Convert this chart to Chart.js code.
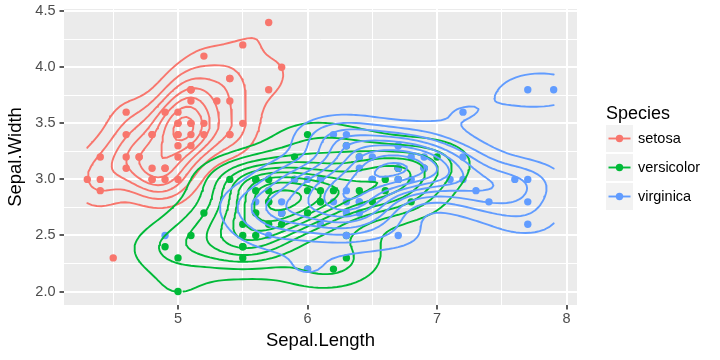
<!DOCTYPE html>
<html><head><meta charset="utf-8">
<script src="https://cdn.jsdelivr.net/npm/chart.js@4.4.1/dist/chart.umd.min.js"></script>
<style>html,body{margin:0;padding:0;background:#fff;}#c{display:block;}</style>
</head><body><canvas id="c" width="720" height="360"></canvas>
<script>
// ---- data (iris: Sepal.Length / Sepal.Width) ----
const speciesNames = ['setosa', 'versicolor', 'virginica'];
const setosaLength = [5.1,4.9,4.7,4.6,5.0,5.4,4.6,5.0,4.4,4.9,5.4,4.8,4.8,4.3,5.8,5.7,5.4,5.1,5.7,5.1,5.4,5.1,4.6,5.1,4.8,5.0,5.0,5.2,5.2,4.7,4.8,5.4,5.2,5.5,4.9,5.0,5.5,4.9,4.4,5.1,5.0,4.5,4.4,5.0,5.1,4.8,5.1,4.6,5.3,5.0];
const setosaWidth = [3.5,3.0,3.2,3.1,3.6,3.9,3.4,3.4,2.9,3.1,3.7,3.4,3.0,3.0,4.0,4.4,3.9,3.5,3.8,3.8,3.4,3.7,3.6,3.3,3.4,3.0,3.4,3.5,3.4,3.2,3.1,3.4,4.1,4.2,3.1,3.2,3.5,3.6,3.0,3.4,3.5,2.3,3.2,3.5,3.8,3.0,3.8,3.2,3.7,3.3];
const versicolorLength = [7.0,6.4,6.9,5.5,6.5,5.7,6.3,4.9,6.6,5.2,5.0,5.9,6.0,6.1,5.6,6.7,5.6,5.8,6.2,5.6,5.9,6.1,6.3,6.1,6.4,6.6,6.8,6.7,6.0,5.7,5.5,5.5,5.8,6.0,5.4,6.0,6.7,6.3,5.6,5.5,5.5,6.1,5.8,5.0,5.6,5.7,5.7,6.2,5.1,5.7];
const versicolorWidth = [3.2,3.2,3.1,2.3,2.8,2.8,3.3,2.4,2.9,2.7,2.0,3.0,2.2,2.9,2.9,3.1,3.0,2.7,2.2,2.5,3.2,2.8,2.5,2.8,2.9,3.0,2.8,3.0,2.9,2.6,2.4,2.4,2.7,2.7,3.0,3.4,3.1,2.3,3.0,2.5,2.6,3.0,2.6,2.3,2.7,3.0,2.9,2.9,2.5,2.8];
const virginicaLength = [6.3,5.8,7.1,6.3,6.5,7.6,4.9,7.3,6.7,7.2,6.5,6.4,6.8,5.7,5.8,6.4,6.5,7.7,7.7,6.0,6.9,5.6,7.7,6.3,6.7,7.2,6.2,6.1,6.4,7.2,7.4,7.9,6.4,6.3,6.1,7.7,6.3,6.4,6.0,6.9,6.7,6.9,5.8,6.8,6.7,6.7,6.3,6.5,6.2,5.9];
const virginicaWidth = [3.3,2.7,3.0,2.9,3.0,3.0,2.5,2.9,2.5,3.6,3.2,2.7,3.0,2.5,2.8,3.2,3.0,3.8,2.6,2.2,3.2,2.8,2.8,2.7,3.3,3.2,2.8,3.0,2.8,3.0,2.8,3.8,2.8,2.8,2.6,3.0,3.4,3.1,3.0,3.1,3.1,3.1,2.7,3.2,3.3,3.0,2.5,3.0,3.4,3.0];
const xTickLabels = [5, 6, 7, 8];
const yTickLabels = [2.0, 2.5, 3.0, 3.5, 4.0, 4.5];
const speciesColors = ['#F8766D', '#00BA38', '#619CFF'];

const groupsX = [setosaLength, versicolorLength, virginicaLength];
const groupsY = [setosaWidth, versicolorWidth, virginicaWidth];

// ---- 2-D kernel density (as MASS::kde2d) + contour lines ----
function quantile7(s, p) { const h = (s.length - 1) * p, lo = Math.floor(h); const hi = Math.min(lo + 1, s.length - 1); return s[lo] + (h - lo) * (s[hi] - s[lo]); }
function bandwidthNrd(x) {
  const s = [...x].sort((a, b) => a - b);
  const r = quantile7(s, 0.75) - quantile7(s, 0.25);
  const n = x.length, m = x.reduce((a, b) => a + b, 0) / n;
  const v = x.reduce((a, b) => a + (b - m) * (b - m), 0) / (n - 1);
  return 4 * 1.06 * Math.min(Math.sqrt(v), r / 1.34) * Math.pow(n, -0.2);
}
function seq(a, b, n) { const o = []; for (let i = 0; i < n; i++) o.push(a + (b - a) * i / (n - 1)); return o; }
function dnorm(u) { return Math.exp(-u * u / 2) / Math.sqrt(2 * Math.PI); }
function kde2d(x, y, lims, n) {
  const hx = bandwidthNrd(x) / 4, hy = bandwidthNrd(y) / 4;
  const gx = seq(lims[0], lims[1], n), gy = seq(lims[2], lims[3], n);
  const ax = gx.map(g => x.map(v => dnorm((g - v) / hx)));
  const ay = gy.map(g => y.map(v => dnorm((g - v) / hy)));
  const z = [];
  for (let i = 0; i < n; i++) { z.push([]); for (let j = 0; j < n; j++) { let s = 0; for (let k = 0; k < x.length; k++) s += ax[i][k] * ay[j][k]; z[i].push(s / (x.length * hx * hy)); } }
  return { gx, gy, z };
}
function pretty(lo, hi, ndiv) {
  const h = 1.5, h5 = 0.5 + 1.5 * h;
  let cell = hi - lo; if (ndiv > 1) cell /= ndiv;
  const base = Math.pow(10, Math.floor(Math.log10(cell)));
  let unit = base, ns;
  if ((ns = 2 * base) - cell < h * (cell - unit)) { unit = ns; if ((ns = 5 * base) - cell < h5 * (cell - unit)) { unit = ns; if ((ns = 10 * base) - cell < h * (cell - unit)) unit = ns; } }
  let a = Math.floor(lo / unit + 1e-7), b = Math.ceil(hi / unit - 1e-7);
  while (a * unit > lo + 1e-10 * unit) a--;
  while (b * unit < hi - 1e-10 * unit) b++;
  const out = []; for (let k = a; k <= b; k++) out.push(k * unit); return out;
}
function contourLines(d, lev) {
  const { gx, gy, z } = d, n = gx.length;
  const pts = new Map(), segs = [];
  function edge(id, x0, y0, z0, x1, y1, z1) {
    if (!pts.has(id)) { const t = (lev - z0) / (z1 - z0); pts.set(id, { x: x0 + t * (x1 - x0), y: y0 + t * (y1 - y0) }); }
    return id;
  }
  for (let i = 0; i < n - 1; i++) for (let j = 0; j < n - 1; j++) {
    const a = z[i][j], b = z[i + 1][j], c = z[i + 1][j + 1], dd = z[i][j + 1];
    const A = a >= lev, B = b >= lev, C = c >= lev, D = dd >= lev;
    const e0 = A !== B ? edge('h' + i + '_' + j, gx[i], gy[j], a, gx[i + 1], gy[j], b) : null;
    const e1 = B !== C ? edge('v' + (i + 1) + '_' + j, gx[i + 1], gy[j], b, gx[i + 1], gy[j + 1], c) : null;
    const e2 = D !== C ? edge('h' + i + '_' + (j + 1), gx[i], gy[j + 1], dd, gx[i + 1], gy[j + 1], c) : null;
    const e3 = A !== D ? edge('v' + i + '_' + j, gx[i], gy[j], a, gx[i], gy[j + 1], dd) : null;
    const list = [e0, e1, e2, e3].filter(v => v !== null);
    if (list.length === 2) segs.push(list);
    else if (list.length === 4) {
      const ctr = (a + b + c + dd) / 4;
      if ((ctr >= lev) === A) { segs.push([e0, e1]); segs.push([e2, e3]); }
      else { segs.push([e0, e3]); segs.push([e1, e2]); }
    }
  }
  const adj = new Map();
  segs.forEach((s, k) => s.forEach(e => { if (!adj.has(e)) adj.set(e, []); adj.get(e).push(k); }));
  const used = new Array(segs.length).fill(false);
  const lines = [];
  function walk(start, fromEdge) {
    const out = [fromEdge]; let seg = start, e = fromEdge;
    while (seg !== -1 && !used[seg]) {
      used[seg] = true; const s = segs[seg]; const nx = s[0] === e ? s[1] : s[0]; out.push(nx);
      const cand = adj.get(nx).filter(k => !used[k]); seg = cand.length ? cand[0] : -1; e = nx;
    }
    return out.map(id => pts.get(id));
  }
  for (const [e, l] of adj) if (l.length === 1 && !used[l[0]]) lines.push(walk(l[0], e));
  for (let k = 0; k < segs.length; k++) if (!used[k]) lines.push(walk(k, segs[k][0]));
  return lines;
}
const allX = groupsX.flat(), allY = groupsY.flat();
const lims = [Math.min(...allX), Math.max(...allX), Math.min(...allY), Math.max(...allY)];
const contourData = groupsX.map((gxv, g) => {
  const d = kde2d(gxv, groupsY[g], lims, 100);
  let zmin = Infinity, zmax = -Infinity; d.z.forEach(r => r.forEach(v => { if (v < zmin) zmin = v; if (v > zmax) zmax = v; }));
  const data = [];
  pretty(zmin, zmax, 10).forEach(lev => {
    contourLines(d, lev).forEach(line => { line.forEach(p => data.push(p)); data.push({ x: null, y: null }); });
  });
  return data;
});

// ---- chart ----
const xr = lims[1] - lims[0], yr = lims[3] - lims[2];
const xMin = lims[0] - 0.05 * xr, xMax = lims[1] + 0.05 * xr;
const yMin = lims[2] - 0.05 * yr, yMax = lims[3] + 0.05 * yr;
const FONT = '"Liberation Sans", Arial, Helvetica, sans-serif';

const datasets = [];
speciesNames.forEach((s, g) => {
  datasets.push({ label: s + ' density', data: contourData[g], showLine: true, borderColor: speciesColors[g], borderWidth: 1.9, pointRadius: 0, spanGaps: false, tension: 0, order: 2 - g, borderJoinStyle: 'round', borderCapStyle: 'round' });
});
speciesNames.forEach((s, g) => {
  datasets.push({ label: s, data: groupsX[g].map((v, i) => ({ x: v, y: groupsY[g][i] })), backgroundColor: speciesColors[g], borderWidth: 0, pointRadius: 3.7, pointHoverRadius: 3.7, order: 5 - g });
});

const isMajorX = v => Math.abs(v - Math.round(v)) < 1e-6;
const isMajorY = v => Math.abs(v * 2 - Math.round(v * 2)) < 1e-6;

const panelBg = { id: 'panelBg', beforeDraw(chart) { const { ctx, chartArea: a } = chart; ctx.save(); ctx.fillStyle = '#EBEBEB'; ctx.fillRect(a.left, a.top, a.right - a.left, a.bottom - a.top); ctx.restore(); } };
const legendPlugin = {
  id: 'ggLegend', afterDraw(chart) {
    const ctx = chart.ctx; ctx.save();
    ctx.fillStyle = '#000'; ctx.font = '18px ' + FONT; ctx.textBaseline = 'alphabetic'; ctx.textAlign = 'left';
    ctx.fillText('Species', 606, 118.5);
    speciesNames.forEach((s, g) => {
      const top = 125 + g * 29, cy = top + 13.5;
      ctx.fillStyle = '#F2F2F2'; ctx.fillRect(606, top, 27, 27);
      ctx.strokeStyle = speciesColors[g]; ctx.lineWidth = 1.9; ctx.beginPath(); ctx.moveTo(608.5, cy); ctx.lineTo(630.5, cy); ctx.stroke();
      ctx.fillStyle = speciesColors[g]; ctx.beginPath(); ctx.arc(619.5, cy, 3.7, 0, Math.PI * 2); ctx.fill();
      ctx.fillStyle = '#000'; ctx.font = '14.5px ' + FONT; ctx.textBaseline = 'middle'; ctx.fillText(s, 638, cy + 0.5);
    });
    ctx.restore();
  }
};

new Chart(document.getElementById('c'), {
  type: 'scatter',
  data: { datasets },
  plugins: [panelBg, legendPlugin],
  options: {
    responsive: false, animation: false, devicePixelRatio: 1,
    layout: { padding: { left: 0, top: 9, right: 143, bottom: 0 } },
    plugins: { legend: { display: false }, tooltip: { enabled: false } },
    events: [],
    scales: {
      x: {
        type: 'linear', min: xMin, max: xMax,
        afterBuildTicks: s => { const t = []; for (let v = 4.5; v <= 8.0001; v += 0.5) t.push({ value: Math.round(v * 10) / 10 }); s.ticks = t; },
        afterFit: s => { s.height = 55; s.paddingLeft = 0; s.paddingRight = 0; },
        border: { display: false },
        grid: { color: '#FFFFFF', lineWidth: c => isMajorX(c.tick.value) ? 2 : 1, drawTicks: true, tickLength: 4.5, tickWidth: 1.6, tickColor: c => isMajorX(c.tick.value) ? '#333333' : 'rgba(0,0,0,0)' },
        ticks: { autoSkip: false, maxRotation: 0, padding: 1, color: '#4D4D4D', font: { size: 14.5, family: FONT }, callback: v => xTickLabels.includes(v) ? String(v) : '' },
        title: { display: true, text: 'Sepal.Length', color: '#000', font: { size: 18.5, family: FONT }, padding: { top: 0, bottom: 8 } }
      },
      y: {
        type: 'linear', min: yMin, max: yMax,
        afterBuildTicks: s => { const t = []; for (let v = 2.0; v <= 4.5001; v += 0.25) t.push({ value: Math.round(v * 100) / 100 }); s.ticks = t; },
        afterFit: s => { s.width = 64; s.paddingTop = 0; s.paddingBottom = 0; },
        border: { display: false },
        grid: { color: '#FFFFFF', lineWidth: c => isMajorY(c.tick.value) ? 2 : 1, drawTicks: true, tickLength: 4.5, tickWidth: 1.6, tickColor: c => isMajorY(c.tick.value) ? '#333333' : 'rgba(0,0,0,0)' },
        ticks: { autoSkip: false, padding: 4, color: '#4D4D4D', font: { size: 14.5, family: FONT }, callback: v => yTickLabels.some(t => Math.abs(t - v) < 1e-6) ? v.toFixed(1) : '' },
        title: { display: true, text: 'Sepal.Width', color: '#000', font: { size: 18.5, family: FONT }, padding: { top: 5, bottom: 0 } }
      }
    }
  }
});
</script></body></html>
